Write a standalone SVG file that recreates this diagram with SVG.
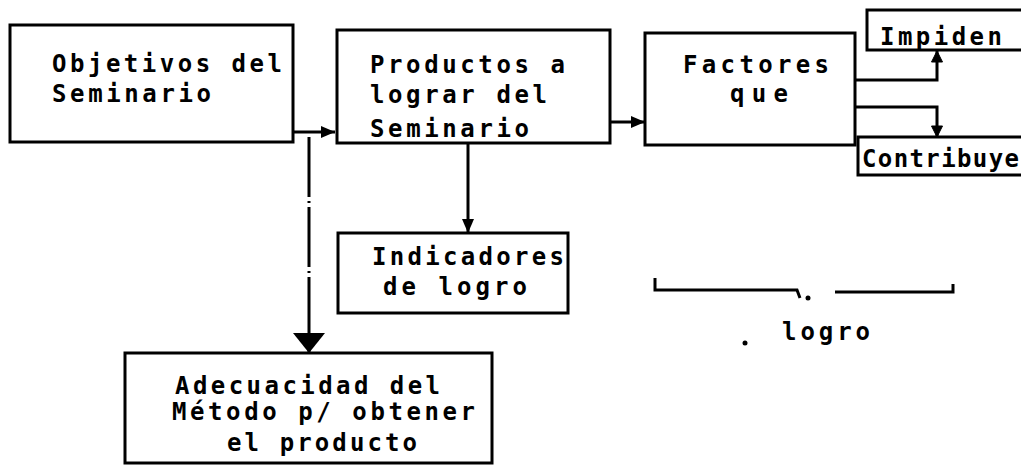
<svg xmlns="http://www.w3.org/2000/svg" width="1021" height="467" viewBox="0 0 1021 467">
<style>
.box{fill:none;stroke:#000;stroke-width:3}
.ln{fill:none;stroke:#000;stroke-width:3}
.t{font-family:"DejaVu Sans Mono","Liberation Mono",monospace;font-weight:bold;font-size:24px;fill:#000}
</style>
<defs>
<marker id="ah" markerUnits="userSpaceOnUse" markerWidth="16" markerHeight="16" viewBox="0 0 16 16" refX="15" refY="8" orient="auto">
<path d="M1,2 L15,8 L1,14 Z" fill="#000"/>
</marker>
<marker id="ahs" markerUnits="userSpaceOnUse" markerWidth="14" markerHeight="14" viewBox="0 0 14 14" refX="13" refY="7" orient="auto">
<path d="M2,1.5 L13,7 L2,12.5 Z" fill="#000" stroke="#000" stroke-width="1"/>
</marker>
<marker id="ahb" markerUnits="userSpaceOnUse" markerWidth="22" markerHeight="34" viewBox="0 0 22 34" refX="21" refY="17" orient="auto">
<path d="M1,1 L21,17 L1,33 Z" fill="#000"/>
</marker>
</defs>
<rect width="1021" height="467" fill="#fff"/>
<g id="connectors">
<path class="ln" d="M293,132 H335" marker-end="url(#ah)"/>
<path class="ln" d="M610,122 H645" marker-end="url(#ah)"/>
<path class="ln" d="M468,143 V233" marker-end="url(#ah)"/>
<path class="ln" d="M309,137 V353" stroke-dasharray="60 4 2 4" marker-end="url(#ahb)"/>
<path class="ln" d="M855,80 H937 V51" marker-end="url(#ahs)"/>
<path class="ln" d="M855,107 H937 V137" marker-end="url(#ahs)"/>
</g>
<g id="objetivos">
<rect class="box" x="10" y="25" width="283" height="117"/>
<text class="t" x="52" y="72" textLength="230" lengthAdjust="spacing">Objetivos del</text>
<text class="t" x="52" y="102" textLength="159" lengthAdjust="spacing">Seminario</text>
</g>
<g id="productos">
<rect class="box" x="337" y="30" width="273" height="113"/>
<text class="t" x="370" y="73" textLength="195" lengthAdjust="spacing">Productos a</text>
<text class="t" x="370" y="103" textLength="177" lengthAdjust="spacing">lograr del</text>
<text class="t" x="370" y="137" textLength="159" lengthAdjust="spacing">Seminario</text>
</g>
<g id="factores">
<rect class="box" x="645" y="33" width="210" height="112"/>
<text class="t" x="683" y="73" textLength="146" lengthAdjust="spacing">Factores</text>
<text class="t" x="730" y="102" textLength="58" lengthAdjust="spacing">que</text>
</g>
<g id="impiden">
<path class="box" d="M1021,10 H867 V50 H1021"/>
<text class="t" x="880" y="45" textLength="122" lengthAdjust="spacing">Impiden</text>
</g>
<g id="contribuye">
<path class="box" d="M1021,137 H858 V175 H1021"/>
<text class="t" x="862" y="167" textLength="157" lengthAdjust="spacing">Contribuye</text>
</g>
<g id="indicadores">
<rect class="box" x="338" y="233" width="230" height="80"/>
<text class="t" x="372" y="265" textLength="192" lengthAdjust="spacing">Indicadores</text>
<text class="t" x="383" y="295" textLength="144" lengthAdjust="spacing">de logro</text>
</g>
<g id="adecuacidad">
<rect class="box" x="125" y="353" width="367" height="110"/>
<text class="t" x="175" y="394" textLength="265" lengthAdjust="spacing">Adecuacidad del</text>
<text class="t" x="172" y="420" textLength="303" lengthAdjust="spacing">Método p/ obtener</text>
<text class="t" x="227" y="451" textLength="190" lengthAdjust="spacing">el producto</text>
</g>
<g id="logro">
<path class="ln" d="M655,278 V290 H797 L800,298"/>
<path class="ln" d="M835,292 H953 V284"/>
<circle cx="808" cy="298" r="2.5" fill="#000"/>
<circle cx="745" cy="343" r="2.5" fill="#000"/>
<text class="t" x="782" y="340" textLength="88" lengthAdjust="spacing">logro</text>
</g>
</svg>
